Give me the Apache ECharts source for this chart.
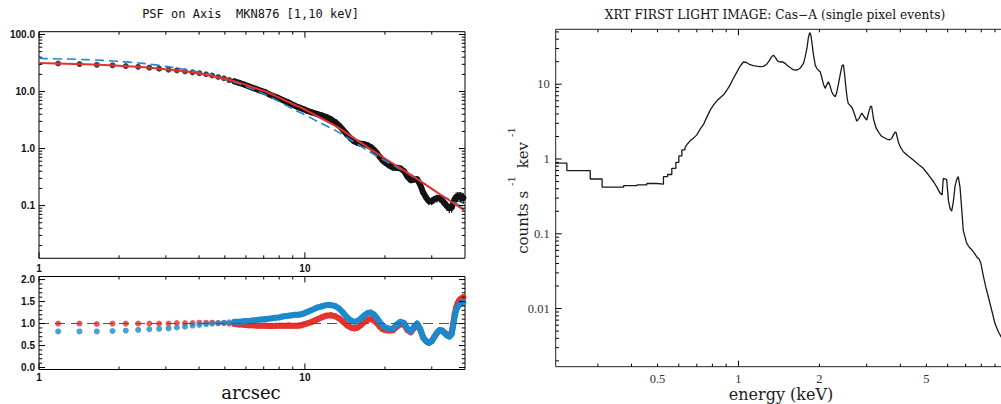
<!DOCTYPE html>
<html><head><meta charset="utf-8">
<script src="https://cdn.jsdelivr.net/npm/echarts@6/dist/echarts.min.js"></script>
<style>html,body{margin:0;padding:0;background:#fff}#c{width:1001px;height:404px}</style>
</head><body><div id="c"></div>
<script>
// ---------- PSF profile (left, top panel) ----------
const psfRadius = [
 1.18, 1.42, 1.65, 1.89, 2.12, 2.36, 2.6, 2.83, 3.07, 3.3, 3.54, 3.78, 4.01, 4.25, 4.48, 4.72, 4.96, 5.19, 5.43, 5.66,
 5.9, 6.14, 6.37, 6.61, 6.84, 7.08, 7.32, 7.55, 7.79, 8.02, 8.26, 8.5, 8.73, 8.97, 9.2, 9.44, 9.68, 9.91, 10.15,
 10.62, 11.09, 11.56, 12.04, 12.51, 12.98, 13.45, 13.92, 14.4, 14.87, 15.34, 15.81, 16.28, 16.76, 17.23, 17.7, 18.17, 18.64, 19.12, 19.59, 20.06,
 20.77, 21.48, 22.18, 22.89, 23.6, 24.31, 25.02, 25.72, 26.43, 27.14, 27.85, 28.56, 29.26, 29.97, 30.68, 31.39, 32.1, 32.8, 33.51, 34.22, 34.93, 35.64,
 36.11, 36.58, 37.05, 37.52, 38.0, 38.47, 38.94, 39.41];
const psfCounts = [
 31.0, 30.3, 29.4, 28.8, 28.0, 27.1, 26.2, 25.2, 24.2, 23.5, 22.6, 21.7, 21.0, 20.1, 19.1, 18.0, 17.1, 15.9, 15.1, 14.2,
 13.3, 12.4, 11.6, 10.9, 10.3, 9.75, 9.0, 8.44, 8.0, 7.54, 7.06, 6.66, 6.34, 5.92, 5.6, 5.32, 5.09, 4.87, 4.64,
 4.31, 4.05, 3.82, 3.57, 3.27, 2.93, 2.53, 2.11, 1.76, 1.51, 1.34, 1.25, 1.21, 1.19, 1.14, 1.06, 0.955, 0.835, 0.712, 0.62, 0.565,
 0.504, 0.462, 0.46, 0.447, 0.40, 0.321, 0.278, 0.287, 0.29, 0.232, 0.169, 0.138, 0.1195, 0.119, 0.129, 0.135, 0.135, 0.125, 0.110, 0.098, 0.0898, 0.0924,
 0.111, 0.130, 0.1407, 0.144, 0.1446, 0.143, 0.1397, 0.136];
const psfRelErr = [
 0.01, 0.01, 0.01, 0.01, 0.01, 0.01, 0.01, 0.01, 0.01, 0.01, 0.01, 0.01, 0.01, 0.01, 0.01, 0.01, 0.01, 0.01, 0.01, 0.01,
 0.015, 0.015, 0.015, 0.015, 0.015, 0.015, 0.015, 0.015, 0.015, 0.015, 0.02, 0.02, 0.02, 0.02, 0.02, 0.02, 0.02, 0.02, 0.02,
 0.025, 0.025, 0.03, 0.03, 0.03, 0.035, 0.035, 0.04, 0.04, 0.045, 0.045, 0.05, 0.05, 0.055, 0.055, 0.06, 0.06, 0.065, 0.065, 0.07, 0.07,
 0.075, 0.08, 0.085, 0.09, 0.095, 0.1, 0.105, 0.11, 0.115, 0.12, 0.13, 0.14, 0.15, 0.15, 0.15, 0.16, 0.16, 0.17, 0.17, 0.18, 0.18, 0.19,
 0.19, 0.19, 0.2, 0.2, 0.2, 0.21, 0.21, 0.22];
// radius from which the samples overlap into a continuous band
const denseFrom = 5.4;

const modelRadius = [1, 1.5, 2, 2.5, 3, 3.5, 4, 4.5, 5, 5.7, 6.4, 7.1, 8, 9, 9.85, 11.4, 13.1, 15.2, 17.5, 19.8, 22.1, 25, 28, 32.2, 36, 39.6];
const redModel  = [31.5, 30.2, 28.4, 26.6, 24.5, 22.6, 20.7, 18.6, 16.7, 14.2, 11.8, 10.0, 7.8, 6.05, 5.0, 3.47, 2.45, 1.55, 1.0, 0.69, 0.5, 0.348, 0.245, 0.158, 0.112, 0.084];
const blueModel = [38.0, 36.3, 33.8, 30.9, 27.6, 24.6, 21.8, 19.0, 16.5, 13.5, 10.8, 8.8, 6.65, 4.93, 4.03, 2.84, 2.04, 1.33, 0.88, 0.627, 0.475, 0.34, 0.245, 0.158, 0.118, 0.09];

// ---------- ratio (left, bottom panel) ----------
const ratioRed = [
 1.00, 1.00, 0.99, 1.00, 1.00, 1.00, 1.00, 1.00, 1.00, 1.01, 1.01, 1.01, 1.02, 1.02, 1.02, 1.01, 1.01, 1.00, 0.99, 0.98,
 0.97, 0.96, 0.96, 0.95, 0.95, 0.95, 0.945, 0.945, 0.95, 0.95, 0.95, 0.95, 0.955, 0.95, 0.95, 0.95, 0.96, 0.98, 1.00,
 1.04, 1.09, 1.14, 1.18, 1.19, 1.17, 1.12, 1.04, 0.96, 0.91, 0.89, 0.91, 0.97, 1.04, 1.09, 1.10, 1.07, 1.01, 0.93, 0.87, 0.85,
 0.84, 0.85, 0.93, 0.99, 0.97, 0.85, 0.80, 0.90, 0.99, 0.86, 0.68, 0.60, 0.56, 0.60, 0.70, 0.79, 0.85, 0.84, 0.79, 0.75, 0.73, 0.80,
 1.00, 1.22, 1.37, 1.46, 1.52, 1.56, 1.58, 1.60];
const ratioBlue = [
 0.82, 0.82, 0.82, 0.83, 0.84, 0.855, 0.87, 0.88, 0.89, 0.91, 0.93, 0.955, 0.97, 0.985, 1.00, 1.01, 1.02, 1.03, 1.04, 1.04,
 1.05, 1.06, 1.07, 1.08, 1.09, 1.10, 1.11, 1.12, 1.13, 1.14, 1.16, 1.17, 1.18, 1.19, 1.20, 1.20, 1.21, 1.23, 1.26,
 1.31, 1.36, 1.39, 1.42, 1.42, 1.40, 1.34, 1.25, 1.14, 1.07, 1.04, 1.06, 1.12, 1.19, 1.24, 1.25, 1.21, 1.13, 1.03, 0.96, 0.91,
 0.88, 0.89, 0.98, 1.04, 1.01, 0.88, 0.82, 0.93, 1.00, 0.88, 0.68, 0.60, 0.56, 0.60, 0.69, 0.79, 0.85, 0.84, 0.78, 0.73, 0.70, 0.76,
 0.95, 1.15, 1.30, 1.38, 1.42, 1.45, 1.47, 1.48];
const ratioReference = 1.0;

// ---------- Cas-A spectrum (right) ----------
const specLowE = [0.209, 0.23, 0.281, 0.311, 0.374, 0.419, 0.456, 0.497, 0.526, 0.545, 0.565, 0.585, 0.600, 0.616, 0.632];
const specLowC = [0.88, 0.70, 0.54, 0.42, 0.44, 0.45, 0.47, 0.46, 0.58, 0.62, 0.75, 0.9, 1.1, 1.32, 1.42];
const specE = [
 0.632, 0.647, 0.661, 0.68, 0.70, 0.72, 0.741, 0.762, 0.785, 0.808,
 0.831, 0.855, 0.88, 0.905, 0.931, 0.958, 0.986, 1.015, 1.044, 1.07,
 1.105, 1.135, 1.17, 1.2, 1.239, 1.27, 1.30, 1.325, 1.349, 1.375,
 1.40, 1.43, 1.46, 1.49, 1.52, 1.556, 1.59, 1.624, 1.66, 1.70,
 1.745, 1.77, 1.80, 1.82, 1.84, 1.86, 1.88, 1.90, 1.93, 1.955,
 1.985, 2.013, 2.04, 2.07, 2.10, 2.13, 2.16, 2.19, 2.22, 2.255,
 2.29, 2.32, 2.36, 2.40, 2.43, 2.457, 2.48, 2.51, 2.54, 2.56,
 2.60, 2.65, 2.70, 2.755, 2.81, 2.875, 2.93, 3.0, 3.05, 3.10,
 3.13, 3.18, 3.25, 3.315, 3.39, 3.46, 3.56, 3.66, 3.72, 3.77,
 3.83, 3.86, 3.93, 4.0, 4.105, 4.28, 4.47, 4.66, 4.87, 5.08,
 5.31, 5.47, 5.62, 5.72, 5.78, 5.95, 6.04, 6.12, 6.21, 6.30,
 6.39, 6.48, 6.57, 6.67, 6.77, 6.86, 7.06, 7.22, 7.38, 7.54,
 7.70, 7.85, 7.98, 8.15, 8.33, 8.50, 8.75, 9.0, 9.26, 9.48,
 9.7, 9.9];
const specC = [
 1.42, 1.6, 1.75, 1.9, 2.1, 2.5, 2.9, 3.6, 4.5, 5.3,
 6.0, 6.6, 7.2, 8.3, 9.8, 12.0, 14.5, 17.5, 19.8, 19.5,
 18.2, 17.7, 17.4, 17.2, 17.3, 18.3, 20.5, 23.0, 24.5, 22.5,
 20.3, 19.8, 19.9, 19.0, 17.8, 16.7, 15.8, 15.4, 15.6, 16.5,
 19, 23, 31, 42, 49, 45, 34, 25, 18, 16.3,
 15.3, 14.7, 12.5, 10.0, 8.8, 9.8, 10.8, 9.6, 8.0, 7.2,
 6.8, 7.8, 10.5, 14.5, 17.8, 18.1, 14, 9, 6.3, 5.55,
 5.2, 4.8, 4.0, 3.2, 3.5, 4.1, 3.7, 3.3, 4.2, 5.1,
 5.0, 3.4, 2.6, 2.3, 2.05, 1.95, 1.85, 1.8, 1.9, 2.1,
 2.3, 2.25, 1.7, 1.45, 1.25, 1.1, 0.97, 0.85, 0.75, 0.62,
 0.50, 0.42, 0.35, 0.33, 0.55, 0.53, 0.28, 0.22, 0.20, 0.27,
 0.43, 0.53, 0.58, 0.42, 0.21, 0.11, 0.075, 0.066, 0.061, 0.055,
 0.049, 0.046, 0.040, 0.027, 0.019, 0.0144, 0.0095, 0.0063, 0.0049, 0.0042,
 0.0038, 0.0035];

// ---------- tick labels and tick marks ----------
const psfXLabels = [1, 10];
const psfYLabels = [0.1, 1, 10, 100];
const ratioYLabels = [0, 0.5, 1, 1.5, 2];
const specXLabels = [0.5, 1, 2, 5];
const specYLabels = [0.01, 0.1, 1, 10];

const psfXMinor = [2, 3, 4, 5, 6, 7, 8, 9, 20, 30];
const psfYMinor = [0.02, 0.03, 0.04, 0.05, 0.06, 0.07, 0.08, 0.09, 0.2, 0.3, 0.4, 0.5, 0.6, 0.7, 0.8, 0.9,
                   2, 3, 4, 5, 6, 7, 8, 9, 20, 30, 40, 50, 60, 70, 80, 90];
const ratioYMinor = [0.1, 0.2, 0.3, 0.4, 0.6, 0.7, 0.8, 0.9, 1.1, 1.2, 1.3, 1.4, 1.6, 1.7, 1.8, 1.9];
const specXMajor = [1, 10];
const specXMinor = [0.3, 0.4, 0.5, 0.6, 0.7, 0.8, 0.9, 2, 3, 4, 5, 6, 7, 8, 9];
const specYMinor = [0.002, 0.003, 0.004, 0.005, 0.006, 0.007, 0.008, 0.009, 0.02, 0.03, 0.04, 0.05, 0.06, 0.07, 0.08, 0.09,
                    0.2, 0.3, 0.4, 0.5, 0.6, 0.7, 0.8, 0.9, 2, 3, 4, 5, 6, 7, 8, 9, 20, 30, 40, 50];

const zip = (a, b) => a.map((v, i) => [v, b[i]]);
const dense = pairs => pairs.filter(p => p[0] >= denseFrom);

function tickSeries(gi, xMaj, xMin, yMaj, yMin, xRef, yRef) {
  return {
    type: 'custom', xAxisIndex: gi, yAxisIndex: gi, silent: true, z: 20, clip: false,
    data: [[xRef, yRef]], encode: { x: 0, y: 1 },
    renderItem: function (params, api) {
      const cs = params.coordSys;
      const L = cs.x, R = cs.x + cs.width, T = cs.y, B = cs.y + cs.height;
      const kids = [];
      const seg = (x1, y1, x2, y2) => kids.push({ type: 'line', shape: { x1, y1, x2, y2 }, style: { stroke: '#000', lineWidth: 1 } });
      const xt = (arr, len) => arr.forEach(v => {
        const px = api.coord([v, yRef])[0];
        if (px < L - 0.5 || px > R + 0.5) return;
        seg(px, B, px, B - len); seg(px, T, px, T + len);
      });
      const yt = (arr, len) => arr.forEach(v => {
        const py = api.coord([xRef, v])[1];
        if (py < T - 0.5 || py > B + 0.5) return;
        seg(L, py, L + len, py); seg(R, py, R - len, py);
      });
      xt(xMaj, 6); xt(xMin, 3); yt(yMaj, 6); yt(yMin, 3.3);
      return { type: 'group', children: kids };
    }
  };
}

const leftLabel = { fontFamily: 'Liberation Sans', fontWeight: 'bold', fontSize: 10, color: '#111' };
const rightLabel = { fontFamily: 'Liberation Serif', fontSize: 12.5, color: '#333' };
const hidden = { axisLine: { show: false }, axisTick: { show: false }, splitLine: { show: false } };
const bandLine = (gi, color, data, z) => ({ type: 'line', xAxisIndex: gi, yAxisIndex: gi, silent: true, z, showSymbol: false,
  lineStyle: { color, width: 6, cap: 'round', join: 'round' }, data });

const option = {
  animation: false,
  backgroundColor: '#fff',
  grid: [
    { left: 39, top: 31.7, width: 426, height: 226.6, show: true, borderColor: '#000', borderWidth: 1, containLabel: false, outerBoundsMode: 'none' },
    { left: 39, top: 276.5, width: 426, height: 93, show: true, borderColor: '#000', borderWidth: 1, containLabel: false, outerBoundsMode: 'none' },
    { left: 555.7, top: 29.3, width: 451.6, height: 337.4, show: true, borderColor: '#222', borderWidth: 1, containLabel: false, outerBoundsMode: 'none' }
  ],
  xAxis: [
    Object.assign({ gridIndex: 0, type: 'log', logBase: 10, min: 1, max: 40,
      axisLabel: Object.assign({ customValues: psfXLabels, margin: 5, formatter: v => String(Math.round(v)) }, leftLabel) }, hidden),
    Object.assign({ gridIndex: 1, type: 'log', logBase: 10, min: 1, max: 40,
      axisLabel: Object.assign({ customValues: psfXLabels, margin: 3, formatter: v => String(Math.round(v)) }, leftLabel) }, hidden),
    Object.assign({ gridIndex: 2, type: 'log', logBase: 10, min: 0.209, max: 10,
      axisLabel: Object.assign({ customValues: specXLabels, margin: 6, formatter: v => String(Number(v.toPrecision(2))) }, rightLabel) }, hidden)
  ],
  yAxis: [
    Object.assign({ gridIndex: 0, type: 'log', logBase: 10, min: 0.0119, max: 112,
      axisLabel: Object.assign({ customValues: psfYLabels, margin: 4,
        formatter: v => v >= 1 ? Math.round(v).toFixed(1) : String(Number(v.toPrecision(1))) }, leftLabel) }, hidden),
    Object.assign({ gridIndex: 1, type: 'value', min: -0.045, max: 2.07,
      axisLabel: Object.assign({ customValues: ratioYLabels, margin: 4, formatter: v => v.toFixed(1) }, leftLabel) }, hidden),
    Object.assign({ gridIndex: 2, type: 'log', logBase: 10, min: 0.00167, max: 54.2,
      axisLabel: Object.assign({ customValues: specYLabels, margin: 6,
        formatter: v => v >= 1 ? String(Math.round(v)) : String(Number(v.toPrecision(1))) }, rightLabel) }, hidden)
  ],
  graphic: [
    { type: 'text', x: 250.5, y: 14, silent: true,
      style: { text: 'PSF on Axis\u00a0 MKN876 [1,10 keV]', font: '12px "DejaVu Sans Mono"', fill: '#111',
               align: 'center', verticalAlign: 'middle', textAlign: 'center', textVerticalAlign: 'middle' } },
    { type: 'text', x: 775, y: 15, silent: true,
      style: { text: 'XRT FIRST LIGHT IMAGE: Cas\u2212A (single pixel events)', font: '12.2px "DejaVu Serif"', fill: '#111',
               align: 'center', verticalAlign: 'middle', textAlign: 'center', textVerticalAlign: 'middle' } },
    { type: 'text', x: 251, y: 392, silent: true,
      style: { text: 'arcsec', font: '18px "DejaVu Serif"', fill: '#111',
               align: 'center', verticalAlign: 'middle', textAlign: 'center', textVerticalAlign: 'middle' } },
    { type: 'text', x: 781, y: 394, silent: true,
      style: { text: 'energy (keV)', font: '16px "DejaVu Serif"', fill: '#222',
               align: 'center', verticalAlign: 'middle', textAlign: 'center', textVerticalAlign: 'middle' } },
    { type: 'text', x: 518, y: 189, rotation: Math.PI / 2, silent: true,
      style: { text: '{m|counts s}{s|-1}{m| kev}{s|-1}',
               rich: { m: { fontFamily: 'DejaVu Serif', fontSize: 15, fill: '#222', lineHeight: 24, verticalAlign: 'bottom' },
                       s: { fontFamily: 'DejaVu Serif', fontSize: 10, fill: '#222', verticalAlign: 'top', padding: [0, 3, 0, 5] } },
               align: 'center', verticalAlign: 'middle', textAlign: 'center', textVerticalAlign: 'middle' } }
  ],
  series: [
    { type: 'custom', xAxisIndex: 0, yAxisIndex: 0, silent: true, z: 2,
      data: psfRadius.map((r, i) => [r, psfCounts[i] * (1 - psfRelErr[i]), psfCounts[i] * (1 + psfRelErr[i])]),
      encode: { x: 0, y: [1, 2] },
      renderItem: (params, api) => {
        const a = api.coord([api.value(0), api.value(1)]);
        const b = api.coord([api.value(0), api.value(2)]);
        return { type: 'line', shape: { x1: a[0], y1: a[1], x2: b[0], y2: b[1] }, style: { stroke: '#111', lineWidth: 1.2 } };
      } },
    bandLine(0, '#141414', dense(zip(psfRadius, psfCounts)), 2),
    { type: 'scatter', xAxisIndex: 0, yAxisIndex: 0, silent: true, z: 3, symbol: 'circle', symbolSize: 6,
      itemStyle: { color: '#141414' }, data: zip(psfRadius, psfCounts) },
    { type: 'line', xAxisIndex: 0, yAxisIndex: 0, silent: true, z: 4, showSymbol: false, smooth: 0.3,
      lineStyle: { color: '#1f8ad2', width: 1.6, type: [9, 5] }, data: zip(modelRadius, blueModel) },
    { type: 'line', xAxisIndex: 0, yAxisIndex: 0, silent: true, z: 5, showSymbol: false, smooth: 0.3,
      lineStyle: { color: '#e8312c', width: 2 }, data: zip(modelRadius, redModel) },

    bandLine(1, '#e6332e', dense(zip(psfRadius, ratioRed)), 2),
    { type: 'scatter', xAxisIndex: 1, yAxisIndex: 1, silent: true, z: 2, symbol: 'circle', symbolSize: 6,
      itemStyle: { color: '#e6332e' }, data: zip(psfRadius, ratioRed) },
    { type: 'line', xAxisIndex: 1, yAxisIndex: 1, silent: true, z: 3, showSymbol: false,
      lineStyle: { color: '#1c89cb', width: 6, cap: 'round', join: 'round' }, data: dense(zip(psfRadius, ratioBlue)),
      markLine: { silent: true, symbol: ['none', 'none'], label: { show: false },
                  lineStyle: { color: '#555', width: 1.2, type: [10, 6] }, data: [{ yAxis: ratioReference }] } },
    { type: 'scatter', xAxisIndex: 1, yAxisIndex: 1, silent: true, z: 3, symbol: 'circle', symbolSize: 6,
      itemStyle: { color: '#1c89cb' }, data: zip(psfRadius, ratioBlue) },

    { type: 'line', xAxisIndex: 2, yAxisIndex: 2, silent: true, z: 3, showSymbol: false, step: 'end',
      lineStyle: { color: '#1a1a1a', width: 1.3 }, data: zip(specLowE, specLowC) },
    { type: 'line', xAxisIndex: 2, yAxisIndex: 2, silent: true, z: 3, showSymbol: false,
      lineStyle: { color: '#1a1a1a', width: 1.3 }, data: zip(specE, specC) },

    tickSeries(0, psfXLabels, psfXMinor, psfYLabels, psfYMinor, 2, 1),
    tickSeries(1, psfXLabels, psfXMinor, ratioYLabels, ratioYMinor, 2, 1),
    tickSeries(2, specXMajor, specXMinor, specYLabels, specYMinor, 1, 1)
  ]
};

const chart = echarts.init(document.getElementById('c'), null, { renderer: 'svg', width: 1001, height: 404 });
chart.setOption(option);
</script>
</body></html>
